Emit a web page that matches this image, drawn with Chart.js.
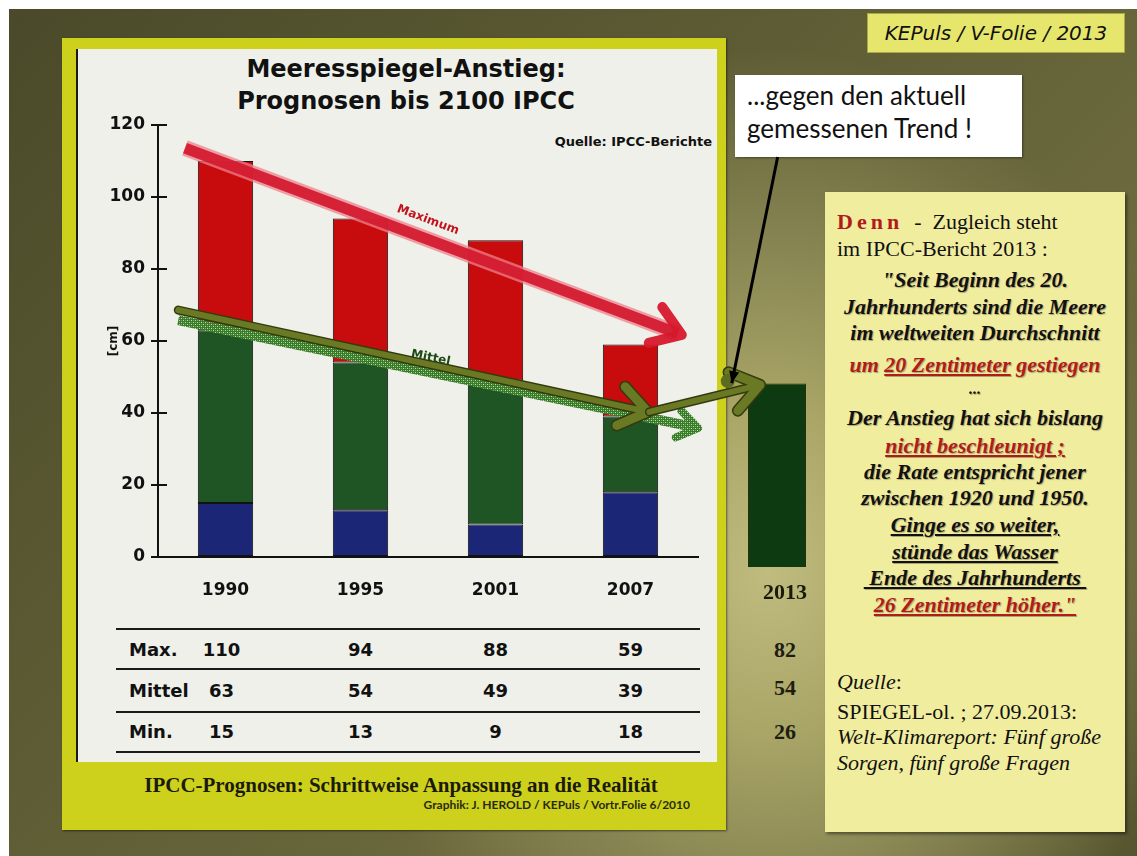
<!DOCTYPE html>
<html><head><meta charset="utf-8">
<script src="https://cdn.jsdelivr.net/npm/chart.js@4.4.1/dist/chart.umd.min.js"></script>
<style>
html,body{margin:0;padding:0;background:#fff;}
body{width:1137px;height:856px;position:relative;overflow:hidden;font-family:"DejaVu Sans",sans-serif;}
.abs{position:absolute;}
#bg{left:9px;top:9px;width:1128px;height:847px;
 background:radial-gradient(ellipse 420px 520px at 760px 560px,#c0bc7f 0%,#a9a567 32%,#878552 62%,rgba(110,108,62,0) 100%),
 linear-gradient(135deg,#4a4a2a 0%,#5d5c34 40%,#6d6b3e 70%,#56552f 100%);}
#frame{left:62px;top:38px;width:664px;height:792px;background:#cdd11c;box-shadow:1px 1px 2px rgba(0,0,0,.5);}
#panel{left:76px;top:49px;width:639px;height:713px;background:#eef0e9;border-left:2px solid #1a1a1a;}
.title{left:76px;width:660px;text-align:center;font-weight:bold;font-size:24px;color:#111;}
#quelle{left:500px;width:212px;top:134px;text-align:right;font-size:13px;font-weight:bold;color:#111;}
.caption{font-family:"Liberation Serif",serif;font-weight:bold;color:#1b1b0b;}
#kep{left:867px;top:13px;width:258px;height:40px;background:#e6e66c;border:1px solid #a9a94a;box-sizing:border-box;
 font-style:italic;font-size:20px;line-height:38px;text-align:center;color:#111;}
#callout{left:735px;top:75px;width:287px;height:82px;background:#fff;box-shadow:1px 1px 2px rgba(0,0,0,.4);}
.cl{left:12px;font-family:Lato,"Open Sans",sans-serif;font-size:26px;color:#111;line-height:33px;white-space:nowrap;}
#box{left:825px;top:192px;width:300px;height:640px;background:#f1ed9f;box-shadow:2px 2px 3px rgba(0,0,0,.45);
 font-family:"Liberation Serif",serif;font-size:22px;color:#111;}
.ln{position:absolute;left:0;width:300px;text-align:center;line-height:26px;white-space:nowrap;font-weight:bold;font-style:italic;text-shadow:1px 1px 1px rgba(0,0,0,.3);}
.lf{position:absolute;left:12px;line-height:26px;white-space:nowrap;}
.red{color:#b01c1c;}
u{text-decoration-thickness:2px;text-underline-offset:2px;}
.tline{position:absolute;left:116px;width:584px;height:2px;background:#1a1a1a;}
.tcell{position:absolute;font-weight:bold;font-size:18px;color:#111;line-height:22px;white-space:nowrap;}
.v13{position:absolute;width:40px;text-align:center;font-family:"Liberation Serif",serif;font-weight:bold;font-size:22px;color:#1e1e10;line-height:26px;}
</style></head>
<body>
<div id="bg" class="abs"></div>
<div id="frame" class="abs"></div>
<div id="panel" class="abs"></div>
<div class="abs title" style="top:55px;">Meeresspiegel-Anstieg:</div>
<div class="abs title" style="top:87px;">Prognosen bis 2100 IPCC</div>
<div id="quelle" class="abs">Quelle: IPCC-Berichte</div>
<div class="abs caption" style="left:76px;width:650px;text-align:center;top:773px;font-size:21px;">IPCC-Prognosen: Schrittweise Anpassung an die Realität</div>
<div class="abs" style="left:400px;width:290px;text-align:right;top:797px;font-family:Lato,sans-serif;font-weight:bold;font-size:12px;color:#2a2a10;">Graphik: J. HEROLD / KEPuls / Vortr.Folie 6/2010</div>
<div id="kep" class="abs">KEPuls / V-Folie / 2013</div>
<div id="callout" class="abs">
 <div class="abs cl" style="top:4px;">...gegen den aktuell</div>
 <div class="abs cl" style="top:37px;">gemessenen Trend !</div>
</div>
<div id="box" class="abs">
 <div class="lf" style="top:17px;"><b class="red" style="letter-spacing:4px;">Denn</b>&nbsp; - &nbsp;Zugleich steht</div>
 <div class="lf" style="top:44px;">im IPCC-Bericht 2013 :</div>
 <div class="ln" style="top:75px;">"Seit Beginn des 20.</div>
 <div class="ln" style="top:102px;">Jahrhunderts sind die Meere</div>
 <div class="ln" style="top:128px;">im weltweiten Durchschnitt</div>
 <div class="ln red" style="top:160px;">um <u>20 Zentimeter</u> gestiegen</div>
 <div class="ln" style="top:184px;font-size:16px;">...</div>
 <div class="ln" style="top:213px;">Der Anstieg hat sich bislang</div>
 <div class="ln red" style="top:241px;"><u>nicht beschleunigt ;</u></div>
 <div class="ln" style="top:267px;">die Rate entspricht jener</div>
 <div class="ln" style="top:293px;">zwischen 1920 und 1950.</div>
 <div class="ln" style="top:320px;"><u>Ginge es so weiter,</u></div>
 <div class="ln" style="top:347px;"><u>stünde das Wasser</u></div>
 <div class="ln" style="top:373px;"><u>&nbsp;Ende des Jahrhunderts&nbsp;</u></div>
 <div class="ln red" style="top:400px;"><u>26 Zentimeter höher."</u></div>
 <div class="lf" style="top:477px;"><i>Quelle</i>:</div>
 <div class="lf" style="top:507px;">SPIEGEL-ol. ; 27.09.2013:</div>
 <div class="lf" style="top:532px;"><i>Welt-Klimareport: Fünf große</i></div>
 <div class="lf" style="top:558px;"><i>Sorgen, fünf große Fragen</i></div>
</div>
<div id="table"></div>
<canvas id="c2013" class="abs" width="100" height="482" style="left:727px;top:125px;"></canvas>
<canvas id="main" class="abs" width="755" height="562" style="left:75px;top:48px;"></canvas>
<script>
// ---- data ----
const categories = ['1990', '1995', '2001', '2007'];
const maxValues = [110, 94, 88, 59];
const mittelValues = [63, 54, 49, 39];
const minValues = [15, 13, 9, 18];
const yTicks = [0, 20, 40, 60, 80, 100, 120];
const rowLabels = ['Max.', 'Mittel', 'Min.'];
const category2013 = ['2013'];
const measured2013 = [51];
const table2013 = [82, 54, 26];

// trend annotations in data space: [category index, cm]
const maxTrend = {from: [-0.3, 113.6], to: [3.38, 61.7], label: 'Maximum', at: [1.5, 93.6]};
const mittelTrend = {from: [-0.35, 65.8], to: [3.5, 35.8], label: 'Mittel', at: [1.52, 55.3]};
const realTrend1 = {from: [-0.35, 68.6], to: [3.13, 40.3]};
const realTrend2 = {from: [3.14, 40.3], to: [3.96, 47.8]};
const pointer = {from: [4.09, 111.1], to: [3.75, 48.3]};

const SANS = 'DejaVu Sans';
function chevron(ctx, x1, y1, x2, y2, len, ang) {
  const a = Math.atan2(y2 - y1, x2 - x1);
  ctx.beginPath();
  ctx.moveTo(x2 - len * Math.cos(a - ang), y2 - len * Math.sin(a - ang));
  ctx.lineTo(x2, y2);
  ctx.lineTo(x2 - len * Math.cos(a + ang), y2 - len * Math.sin(a + ang));
  ctx.stroke();
}
function dotPattern(ctx) {
  const c = document.createElement('canvas'); c.width = 4; c.height = 4;
  const g = c.getContext('2d');
  g.fillStyle = '#3b7a2c'; g.fillRect(0, 0, 4, 4);
  g.fillStyle = '#b8e2a2'; g.fillRect(0, 0, 1, 1); g.fillRect(2, 2, 1, 1);
  g.fillStyle = '#6fae5a'; g.fillRect(2, 0, 1, 1); g.fillRect(0, 2, 1, 1);
  return ctx.createPattern(c, 'repeat');
}
const axisTicks = {
  id: 'axisTicks',
  afterDraw(chart) {
    const ctx = chart.ctx, ys = chart.scales.y, xs = chart.scales.x;
    ctx.save(); ctx.strokeStyle = '#111'; ctx.lineWidth = 2;
    ys.ticks.forEach(t => {
      const y = ys.getPixelForValue(t.value);
      ctx.beginPath(); ctx.moveTo(xs.left, y); ctx.lineTo(xs.left + 9, y); ctx.stroke();
    });
    ctx.restore();
  }
};
const trendArrows = {
  id: 'trendArrows',
  afterDatasetsDraw(chart) {
    const ctx = chart.ctx, xs = chart.scales.x, ys = chart.scales.y;
    const P = p => [xs.getPixelForValue(p[0]), ys.getPixelForValue(p[1])];
    ctx.save();
    ctx.lineJoin = 'round';
    // Maximum (red)
    let [a, b] = [P(maxTrend.from), P(maxTrend.to)];
    ctx.lineCap = 'butt';
    ctx.strokeStyle = 'rgba(238,130,140,0.75)'; ctx.lineWidth = 16;
    ctx.beginPath(); ctx.moveTo(a[0], a[1]); ctx.lineTo(b[0] - 4, b[1] - 1.5); ctx.stroke();
    ctx.strokeStyle = 'rgba(212,24,44,0.92)'; ctx.lineWidth = 11;
    ctx.beginPath(); ctx.moveTo(a[0], a[1]); ctx.lineTo(b[0] - 4, b[1] - 1.5); ctx.stroke();
    ctx.lineCap = 'round'; ctx.lineWidth = 10; ctx.strokeStyle = 'rgba(214,24,44,0.95)';
    chevron(ctx, a[0], a[1], b[0], b[1], 34, 0.6);
    ctx.save();
    ctx.translate(...P(maxTrend.at)); ctx.rotate(Math.atan2(b[1] - a[1], b[0] - a[0]));
    ctx.font = 'bold 12px ' + SANS; ctx.fillStyle = '#c0141e'; ctx.textAlign = 'center'; ctx.textBaseline = 'middle';
    ctx.fillText(maxTrend.label, 0, 0);
    ctx.restore();
    // Mittel (dotted green)
    [a, b] = [P(mittelTrend.from), P(mittelTrend.to)];
    const pat = dotPattern(ctx);
    ctx.lineCap = 'butt'; ctx.strokeStyle = pat; ctx.lineWidth = 10;
    ctx.beginPath(); ctx.moveTo(a[0], a[1]); ctx.lineTo(b[0] - 4, b[1] - 1); ctx.stroke();
    ctx.lineCap = 'round'; ctx.lineWidth = 8; chevron(ctx, a[0], a[1], b[0], b[1], 24, 0.6);
    ctx.save();
    ctx.translate(...P(mittelTrend.at)); ctx.rotate(Math.atan2(b[1] - a[1], b[0] - a[0]));
    ctx.font = 'bold 12px ' + SANS; ctx.fillStyle = '#1d4a14'; ctx.textAlign = 'center'; ctx.textBaseline = 'middle';
    ctx.fillText(mittelTrend.label, 0, 0);
    ctx.restore();
    // real trend (olive arrows)
    [realTrend1, realTrend2].forEach(t => {
      const [p, q] = [P(t.from), P(t.to)];
      ctx.lineCap = 'round';
      ctx.strokeStyle = '#343a0e'; ctx.lineWidth = 9;
      ctx.beginPath(); ctx.moveTo(p[0], p[1]); ctx.lineTo(q[0], q[1]); ctx.stroke();
      ctx.lineWidth = 12; chevron(ctx, p[0], p[1], q[0], q[1], 34, 0.62);
      ctx.strokeStyle = '#6a7a24'; ctx.lineWidth = 6;
      ctx.beginPath(); ctx.moveTo(p[0], p[1]); ctx.lineTo(q[0], q[1]); ctx.stroke();
      ctx.lineWidth = 9; chevron(ctx, p[0], p[1], q[0], q[1], 34, 0.62);
    });
    // pointer from callout
    [a, b] = [P(pointer.from), P(pointer.to)];
    ctx.fillStyle = '#5d6b22';
    ctx.beginPath(); ctx.arc(b[0] - 4, b[1] - 2, 7, 0, Math.PI * 2); ctx.fill();
    ctx.strokeStyle = '#000'; ctx.lineWidth = 3; ctx.lineCap = 'butt';
    ctx.beginPath(); ctx.moveTo(a[0], a[1]); ctx.lineTo(b[0], b[1]); ctx.stroke();
    const ang = Math.atan2(b[1] - a[1], b[0] - a[0]);
    ctx.fillStyle = '#000'; ctx.beginPath();
    ctx.moveTo(b[0], b[1]);
    ctx.lineTo(b[0] - 13 * Math.cos(ang - 0.4), b[1] - 13 * Math.sin(ang - 0.4));
    ctx.lineTo(b[0] - 13 * Math.cos(ang + 0.4), b[1] - 13 * Math.sin(ang + 0.4));
    ctx.closePath(); ctx.fill();
    ctx.restore();
  }
};

const barCommon = {grouped: false, barPercentage: 0.41, categoryPercentage: 1, borderWidth: 1, borderColor: '#121212', borderSkipped: false};

// 2013 measured bar (drawn first, below)
new Chart(document.getElementById('c2013'), {
  type: 'bar',
  data: {labels: category2013, datasets: [{data: measured2013, backgroundColor: '#0e3a11', borderColor: '#26300c', borderWidth: 1, barPercentage: 0.58, categoryPercentage: 1}]},
  options: {
    responsive: false, animation: false, devicePixelRatio: 1,
    layout: {padding: {top: 10, left: 0, right: 0, bottom: 0}},
    plugins: {legend: {display: false}, tooltip: {enabled: false}},
    scales: {
      x: {grid: {display: false, drawTicks: false}, border: {display: false},
          ticks: {padding: 13, labelOffset: 8, color: '#1a1a0a', font: {family: 'Liberation Serif', size: 22, weight: 'bold'}},
          afterFit: s => { s.height = 40; }},
      y: {display: false, min: 0, max: 120}
    }
  }
});

const chart = new Chart(document.getElementById('main'), {
  type: 'bar',
  data: {
    labels: categories,
    datasets: [
      Object.assign({label: 'Min.', data: minValues.map(v => [0, v]), backgroundColor: '#1b2677'}, barCommon),
      Object.assign({label: 'Mittel', data: mittelValues.map((v, i) => [minValues[i], v]), backgroundColor: '#1f5424'}, barCommon),
      Object.assign({label: 'Max.', data: maxValues.map((v, i) => [mittelValues[i], v]), backgroundColor: '#c80b0d'}, barCommon)
    ]
  },
  options: {
    responsive: false, animation: false, devicePixelRatio: 1,
    layout: {padding: {top: 77, right: 132, left: 0, bottom: 0}},
    plugins: {legend: {display: false}, tooltip: {enabled: false}},
    scales: {
      x: {grid: {display: false, drawTicks: false}, border: {display: true, color: '#111', width: 2},
          ticks: {padding: 23, color: '#111', font: {family: SANS, size: 17, weight: 'bold'}},
          afterFit: s => { s.height = 53; }},
      y: {min: 0, max: 120,
          afterBuildTicks: s => { s.ticks = yTicks.map(v => ({value: v})); },
          grid: {drawOnChartArea: false, drawTicks: true, tickLength: 7, color: '#111', lineWidth: 2},
          border: {display: true, color: '#111', width: 2},
          ticks: {padding: 6, color: '#111', font: {family: SANS, size: 17, weight: 'bold'}},
          title: {display: true, text: '[cm]', color: '#111', font: {family: SANS, size: 12, weight: 'bold'}, padding: {top: 32, bottom: 0}},
          afterFit: s => { s.width = 83; }}
    }
  },
  plugins: [axisTicks, trendArrows]
});

// ---- table under the chart ----
const table = document.getElementById('table');
const lineYs = [628, 668, 711, 751];
const rowYs = [639, 680, 721];
lineYs.forEach(y => { const d = document.createElement('div'); d.className = 'tline'; d.style.top = y + 'px'; table.appendChild(d); });
[maxValues, mittelValues, minValues].forEach((vals, r) => {
  const lab = document.createElement('div'); lab.className = 'tcell';
  lab.style.left = '129px'; lab.style.top = rowYs[r] + 'px'; lab.textContent = rowLabels[r];
  table.appendChild(lab);
  vals.forEach((v, i) => {
    const d = document.createElement('div'); d.className = 'tcell';
    const cx = 75 + chart.scales.x.getPixelForValue(i) - (i === 0 ? 4 : 0);
    d.style.left = (cx - 30) + 'px'; d.style.width = '60px'; d.style.textAlign = 'center';
    d.style.top = rowYs[r] + 'px'; d.textContent = v;
    table.appendChild(d);
  });
  const e = document.createElement('div'); e.className = 'v13';
  e.style.left = '765px'; e.style.top = (rowYs[r] - 2 - (r === 1 ? 3 : 0)) + 'px'; e.textContent = table2013[r];
  table.appendChild(e);
});
</script>
</body></html>
